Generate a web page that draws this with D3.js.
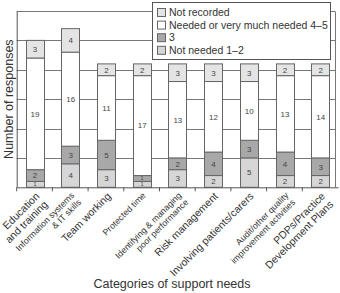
<!DOCTYPE html>
<html>
<head>
<meta charset="utf-8">
<script src="https://cdn.jsdelivr.net/npm/d3@7"></script>
<style>
body { margin: 0; background: #fff; }
svg { display: block; font-family: "Liberation Sans", Arial, Helvetica, sans-serif; }
</style>
</head>
<body>
<div id="chart"></div>
<script>
// categories along the x axis
var categories = ["edu", "info", "team", "time", "perf", "risk", "patients", "audit", "pdp"];
var tickLabels = [
	["Education", "and training"],
	["Information systems", "& IT skills"],
	["Team working"],
	["Protected time"],
	["Identifying & managing", "poor performance"],
	["Risk management"],
	["Involving patients/carers"],
	["Audit/other quality", "improvement activities"],
	["PDPs/Practice", "Development Plans"]
];

// responses, stacked bottom to top
var notNeeded   = [1, 4, 3, 1, 3, 2, 5, 2, 2];
var rated3      = [2, 3, 5, 1, 2, 4, 3, 4, 3];
var needed      = [19, 16, 11, 17, 13, 12, 10, 13, 14];
var notRecorded = [3, 4, 2, 2, 3, 3, 3, 2, 2];

var seriesKeys = ["notNeeded", "rated3", "needed", "notRecorded"];
var legendLabels = ["Not recorded", "Needed or very much needed 4\u20135", "3", "Not needed 1\u20132"];
var yTicks = [0, 5, 10, 15, 20, 25, 30];

var width = 340, height = 293;
var padding = {left: 16.7, right: 5, top: 11, bottom: 105.7};
var colors = {notNeeded: "#d6d6d6", rated3: "#a8a8a8", needed: "#ffffff", notRecorded: "#e4e4e4"};
var smallTicks = ["info", "time", "perf", "audit"];

var table = categories.map(function(c, i) {
	return {cat: c, notNeeded: notNeeded[i], rated3: rated3[i], needed: needed[i], notRecorded: notRecorded[i]};
});

var svg = d3.select("#chart")
	.append("svg")
	.attr("width", width)
	.attr("height", height);

var plotRight = width - padding.right;
var plotBottom = height - padding.bottom;

var xScale = d3.scaleBand()
	.domain(categories)
	.range([padding.left, 338])
	.paddingInner(0.5)
	.paddingOuter(0.25);

var yScale = d3.scaleLinear()
	.domain([0, d3.max(yTicks)])
	.range([plotBottom, padding.top]);

// grid + frame
svg.append("g")
	.selectAll("line")
	.data(yTicks.slice(1))
	.enter().append("line")
	.attr("x1", padding.left)
	.attr("x2", plotRight)
	.attr("y1", function(d) { return Math.round(yScale(d)) + 0.5; })
	.attr("y2", function(d) { return Math.round(yScale(d)) + 0.5; })
	.attr("stroke", "#777")
	.attr("stroke-width", 1);

svg.append("line")
	.attr("x1", plotRight + 0.5).attr("x2", plotRight + 0.5)
	.attr("y1", Math.round(yScale(30)) + 0.5).attr("y2", plotBottom)
	.attr("stroke", "#777");

// bars
var stack = d3.stack().keys(seriesKeys)(table);

var layers = svg.append("g")
	.selectAll("g")
	.data(stack)
	.enter().append("g")
	.attr("fill", function(d) { return colors[d.key]; });

layers.selectAll("rect")
	.data(function(d) { return d; })
	.enter().append("rect")
	.attr("x", function(d) { return Math.round(xScale(d.data.cat)) + 0.5; })
	.attr("y", function(d) { return yScale(d[1]); })
	.attr("width", Math.round(xScale.bandwidth()))
	.attr("height", function(d) { return yScale(d[0]) - yScale(d[1]); })
	.attr("stroke", "#666")
	.attr("stroke-width", 1);

layers.selectAll("text")
	.data(function(d) { return d; })
	.enter().append("text")
	.attr("x", function(d) { return xScale(d.data.cat) + xScale.bandwidth() / 2 + 0.5; })
	.attr("y", function(d) { return (yScale(d[0]) + yScale(d[1])) / 2; })
	.attr("dy", "0.36em")
	.attr("text-anchor", "middle")
	.attr("fill", "#444")
	.attr("font-size", function(d) { return d[1] - d[0] < 2 ? 5.5 : 8; })
	.text(function(d) { return d[1] - d[0]; });

// axes
var xAxis = d3.axisBottom(xScale)
	.tickSizeInner(0)
	.tickSizeOuter(0)
	.tickFormat("");

var yAxis = d3.axisLeft(yScale)
	.tickValues(yTicks)
	.tickSizeInner(0)
	.tickSizeOuter(0)
	.tickFormat("");

svg.append("g")
	.attr("transform", "translate(0," + plotBottom + ")")
	.call(xAxis)
	.select(".domain").attr("stroke", "#555");

svg.append("g")
	.attr("transform", "translate(" + padding.left + ",0)")
	.call(yAxis)
	.select(".domain").attr("stroke", "#555");

// ticks sit on the band boundaries
svg.append("g")
	.selectAll("line")
	.data(categories)
	.enter().append("line")
	.attr("x1", function(d, i) { return padding.left + i * xScale.step(); })
	.attr("x2", function(d, i) { return padding.left + i * xScale.step(); })
	.attr("y1", plotBottom)
	.attr("y2", plotBottom + 4)
	.attr("stroke", "#555");

// rotated category labels
var labels = svg.append("g")
	.selectAll("text")
	.data(categories)
	.enter().append("text")
	.attr("transform", function(d) {
		return "translate(" + (xScale(d) + xScale.bandwidth() / 2) + "," + (plotBottom + 4) + ") rotate(-45)";
	})
	.attr("text-anchor", "end")
	.attr("fill", "#333")
	.attr("font-size", function(d) { return smallTicks.indexOf(d) >= 0 ? 8.8 : 10.5; });

labels.selectAll("tspan")
	.data(function(d, i) { return tickLabels[i]; })
	.enter().append("tspan")
	.attr("x", 0)
	.attr("y", function(d, i) { return (0.75 + i * 1.1) + "em"; })
	.text(function(d) { return d; });

// axis titles
svg.append("text")
	.attr("x", 172)
	.attr("y", 288)
	.attr("text-anchor", "middle")
	.attr("font-size", 12.5)
	.attr("fill", "#333")
	.text("Categories of support needs");

svg.append("text")
	.attr("transform", "translate(12.5," + ((padding.top + plotBottom) / 2) + ") rotate(-90)")
	.attr("text-anchor", "middle")
	.attr("font-size", 12.5)
	.attr("fill", "#333")
	.text("Number of responses");

// legend
var legend = svg.append("g");

legend.append("rect")
	.attr("x", 152.5).attr("y", 2.5)
	.attr("width", 178).attr("height", 57)
	.attr("fill", "#fff")
	.attr("stroke", "#555");

var legendKeys = ["notRecorded", "needed", "rated3", "notNeeded"];

var items = legend.selectAll(".item")
	.data(legendKeys)
	.enter().append("g")
	.attr("class", "item")
	.attr("transform", function(d, i) { return "translate(157," + (12.5 + i * 12.6) + ")"; });

items.append("rect")
	.attr("x", 0.5).attr("y", -4)
	.attr("width", 8).attr("height", 8)
	.attr("fill", function(d) { return colors[d]; })
	.attr("stroke", "#666");

items.append("text")
	.attr("x", 12)
	.attr("dy", "0.36em")
	.attr("font-size", 10.5)
	.attr("fill", "#333")
	.text(function(d, i) { return legendLabels[i]; });
</script>
</body>
</html>
